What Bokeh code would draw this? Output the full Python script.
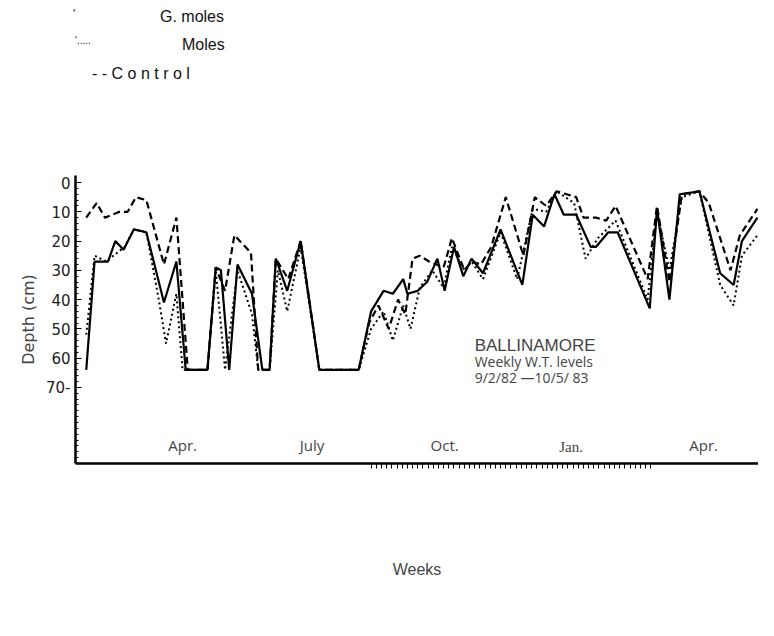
from bokeh.plotting import figure
from bokeh.models import Label, FixedTicker, Range1d, Div
from bokeh.layouts import column
from bokeh.embed import file_html
from bokeh.resources import INLINE

g_weeks = [0,0.8,2.1,2.8,3.6,4.6,5.8,7.5,8.7,9.6,11.7,12.5,13.0,13.8,14.6,16.0,17.0,17.7,18.3,19.4,20.7,22.5,26.3,27.5,28.7,29.6,30.6,31.0,32.0,32.9,33.9,34.6,35.5,36.4,37.2,38.3,40.0,42.1,43.1,44.2,45.2,46.1,47.3,48.7,49.2,50.4,51.3,54.4,55.1,56.3,57.3,59.2,61.2,62.5,63.3,64.8]
g_depth = [64,27,27,20,23,16,17,41,27,64,64,29,30,64,28,38,64,64,26,37,20,64,64,44,37,38,33,38,37,34,26,37,22,32,26,31,16,35,11,15,4,11,11,22,22,17,17,43,9,40,4,3,31,35,20,12]

c_weeks = [0,1.0,1.8,3.2,4.0,4.8,5.8,7.5,8.7,9.8,11.7,12.5,13.4,14.3,15.9,16.6,17.7,18.3,19.5,20.7,22.5,26.3,27.3,28.2,29.2,30.1,30.8,31.5,32.2,33.1,34.5,35.3,36.5,37.2,38.1,39.1,40.5,42.2,43.3,44.4,45.4,47.3,48.0,49.2,50.2,51.1,54.2,55.1,56.3,57.5,59.2,60.1,62.2,63.1,64.8]
c_depth = [12,7,12,10,10,5,6,28,12,64,64,29,37,18,24,64,64,26,33,20,64,64,48,42,50,40,45,26,25,27,29,19,30,27,28,22,5,25,5,8,3,5,12,12,13,8,33,8,34,4,3,7,30,18,9]

m_weeks = [0,0.8,1.9,3.7,4.6,5.8,7.0,7.7,8.7,9.3,11.7,12.5,13.4,14.6,16.0,16.6,17.7,18.5,19.4,20.7,22.5,26.3,27.5,28.7,29.6,30.6,31.3,32.2,33.4,34.5,35.3,36.5,37.2,38.3,40.0,41.6,43.1,44.4,45.4,47.1,48.2,49.4,51.1,54.2,55.1,56.3,57.5,59.2,61.2,62.5,63.3,64.8]
m_depth = [52,25,27,22,16,17,40,55,38,64,64,30,64,30,45,64,64,30,44,22,64,64,50,44,54,42,50,36,30,36,22,30,27,33,17,33,9,10,3,7,26,19,13,40,10,30,5,3,35,42,25,18]

y_ticks = [0,10,20,30,40,50,60,70]
y_tick_labels = ["0","10","20","30","40","50","60","70-"]
month_labels = ["Apr.", "July", "Oct.", "Jan.", "Apr."]
month_weeks = [9.3, 21.8, 34.6, 46.8, 59.6]
legend_labels = ["G. moles", "Moles", "- - C o n t r o l"]

f = "font-family:'Liberation Sans';font-size:16px;color:#111;position:absolute;white-space:pre;"
legend_html = (
    f"<div style='position:relative;width:758px;height:98px;'>"
    f"<span style=\"{f}left:73px;top:6px;font-size:12px;\">'</span>"
    f"<span style=\"{f}left:160px;top:6px;\">{legend_labels[0]}</span>"
    f"<span style=\"{f}left:75px;top:34px;font-size:10px;\">'.....</span>"
    f"<span style=\"{f}left:182px;top:34px;\">{legend_labels[1]}</span>"
    f"<span style=\"{f}left:92px;top:63px;\">{legend_labels[2]}</span>"
    "</div>"
)
div = Div(text=legend_html, width=758, height=98, margin=(0, 0, 0, 0))

p = figure(width=758, height=530, output_backend="svg", toolbar_location=None,
           x_range=Range1d(-1.04, 64.9), y_range=Range1d(96, -2.4),
           min_border_left=75, min_border_top=77, min_border_bottom=165, min_border_right=0,
           margin=(0, 0, 0, 0))
p.outline_line_color = None
p.grid.visible = False

p.line(g_weeks, g_depth, line_color="black", line_width=2.2)
p.line(c_weeks, c_depth, line_color="black", line_width=2.2, line_dash="7 4")
p.line(m_weeks, m_depth, line_color="black", line_width=2.0, line_dash="2 3")

ya = p.yaxis[0]
ya.ticker = FixedTicker(ticks=y_ticks, minor_ticks=list(range(0, 96, 2)))
ya.major_label_overrides = {t: l for t, l in zip(y_ticks, y_tick_labels)}
ya.major_label_text_font = "DejaVu Sans"
ya.major_label_text_font_size = "15px"
ya.major_label_text_color = "#222222"
ya.axis_label = "Depth (cm)"
ya.axis_label_text_font = "DejaVu Sans"
ya.axis_label_text_font_style = "normal"
ya.axis_label_text_font_size = "16px"
ya.axis_line_width = 2.5
ya.major_tick_in = 6
ya.major_tick_out = 0
ya.minor_tick_in = 3
ya.minor_tick_out = 0

xa = p.xaxis[0]
xa.ticker = FixedTicker(ticks=[], minor_ticks=[x * 0.5 for x in range(55, 110)])
xa.major_label_text_font_size = "0px"
xa.axis_line_width = 2.5
xa.minor_tick_in = 0
xa.minor_tick_out = 5
xa.axis_label = "Weeks"
xa.axis_label_text_font = "Liberation Sans"
xa.axis_label_text_font_style = "normal"
xa.axis_label_text_font_size = "16px"
xa.axis_label_standoff = 92

for w, t in zip(month_weeks, month_labels):
    p.add_layout(Label(x=w, y=93, text=t, text_font="Open Sans" if t != "Jan." else "Liberation Serif",
                       text_font_size="15px", text_align="center", text_baseline="bottom"))

p.add_layout(Label(x=37.5, y=59, text="BALLINAMORE", text_font="Liberation Sans", text_font_size="17px"))
p.add_layout(Label(x=37.5, y=64.5, text="Weekly W.T. levels", text_font="Open Sans", text_font_size="14px"))
p.add_layout(Label(x=37.5, y=70, text="9/2/82 \u201410/5/ 83", text_font="Open Sans", text_font_size="14px"))

open("out.html", "w").write(file_html(column(div, p, spacing=0), INLINE))
